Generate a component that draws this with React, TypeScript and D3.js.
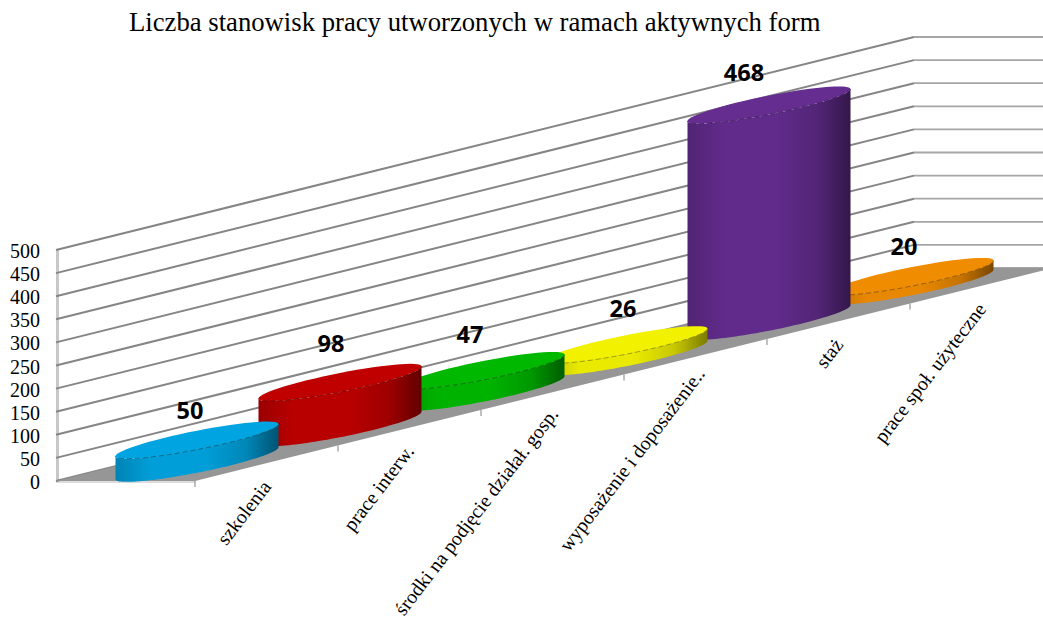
import React from "react";
import * as d3 from "d3";

const title = "Liczba stanowisk pracy utworzonych w ramach aktywnych form";
const categories = ["szkolenia", "prace interw.", "środki na podjęcie działał. gosp.", "wyposażenie i doposażenie..", "staż", "prace społ. użyteczne"];
const values = [50, 98, 47, 26, 468, 20];
const colors = ["#00a4e0", "#c00000", "#00b800", "#f2f200", "#642d8f", "#f08c00"];
const yTicks = d3.range(0, 501, 50);
const labelDx = [-7, -9, -13, -3, -25, -8];
const labelDy = [-30, -39, -37, -37, -33, -31];
const tickLabelShift = [0, 0, 2, 8, 0, 0];

const W = 1043, H = 619;
const origin = { x: 56, y: 481 };
const sx = d3.scaleLinear().domain([0, 6]).range([0, 858]);
const sy = d3.scaleLinear().domain([0, 6]).range([0, -213]);
const depth = 139;
const h = d3.scaleLinear().domain([0, 500]).range([0, 231]);

const floorPt = (s: number, d: number): [number, number] => [origin.x + sx(s) + d * depth, origin.y + sy(s)];

// elliptical base: t=0 is the right tip, t=PI the left tip; sin t > 0 is the far side
const rx = 81.5, tip = 16, thick = 9.5;
const ellPt = (cx: number, cy: number, t: number): [number, number] => [cx + rx * Math.cos(t), cy - tip * Math.cos(t) - thick * Math.sin(t)];
const line = d3.line();
const arc = (cx: number, cy: number, a: number, b: number) => d3.range(61).map((i) => ellPt(cx, cy, a + ((b - a) * i) / 60));

const shade = (c: string, k: number) => d3.color(c)!.darker(k).formatHex();

export default function App() {
  const order = d3.range(categories.length).reverse();
  return (
    <svg width={W} height={H} viewBox={`0 0 ${W} ${H}`} style={{ position: "absolute", left: 0, top: 0, background: "#fff" }}>
      <defs>
        {colors.map((c, i) => (
          <linearGradient key={i} id={`g${i}`} x1="0" x2="1" y1="0" y2="0">
            <stop offset="0" stopColor={shade(c, 0.6)} />
            <stop offset="0.22" stopColor={shade(c, 0.1)} />
            <stop offset="0.55" stopColor={shade(c, 0.1)} />
            <stop offset="0.8" stopColor={shade(c, 0.55)} />
            <stop offset="1" stopColor={shade(c, 1.9)} />
          </linearGradient>
        ))}
      </defs>
      <text x={129} y={31} fontFamily="Liberation Serif" fontSize={26.7} fill="#000">{title}</text>

      <line x1={57.5} x2={57.5} y1={250} y2={482} stroke="#c8c8c8" strokeWidth={3} />
      <line x1={56} x2={195} y1={482} y2={482} stroke="#d0d0d0" strokeWidth={1.5} />
      {yTicks.map((t) => {
        const y0 = origin.y - h(t);
        const [bx, by] = [origin.x + sx(6), y0 + sy(6)];
        return (
          <g key={t} fill="none">
            <line x1={origin.x} y1={y0} x2={bx} y2={by} stroke="#858585" strokeWidth={2} />
            <line x1={bx} y1={by} x2={W} y2={by} stroke="#a6a6a6" strokeWidth={1.8} />
          </g>
        );
      })}
      {yTicks.map((t) => (
        <text key={t} x={40} y={origin.y - h(t) + 8} textAnchor="end" fontFamily="Liberation Serif" fontSize={20} fill="#000">{t}</text>
      ))}

      <path d={line([floorPt(0, 0), floorPt(6, 0), floorPt(6, 1), floorPt(0, 1)])! + "Z"} fill="#969696" />
      {d3.range(1, 7).map((i) => {
        const [x, y] = floorPt(i - 1, 1);
        return <line key={i} x1={x} x2={x} y1={y} y2={y + 6} stroke="#808080" strokeWidth={1} />;
      })}
      {categories.map((c, i) => {
        const [x, y] = floorPt(i, 1);
        return (
          <text key={c} transform={`translate(${x + 77},${y + 6}) rotate(-52.5) translate(${tickLabelShift[i]},0)`} textAnchor="end" fontFamily="Liberation Serif" fontSize={19.8} fill="#000">{c}</text>
        );
      })}

      {order.map((i) => {
        const [cx, cy] = floorPt(i + 0.5, 0.5);
        const top = cy - h(values[i]);
        const frontB = arc(cx, cy, 0, -Math.PI);
        const frontTop = arc(cx, top, 0, -Math.PI);
        const body = [...frontB, ...frontTop.slice().reverse()];
        const ellipse = arc(cx, top, 0, 2 * Math.PI);
        return (
          <g key={i}>
            <path d={line(body)! + "Z"} fill={`url(#g${i})`} />
            <path d={line(ellipse)! + "Z"} fill={colors[i]} />
            <path d={line(frontTop)!} fill="none" stroke={shade(colors[i], 1.5)} strokeWidth={0.8} strokeDasharray="5 3" />
          </g>
        );
      })}
      {values.map((v, i) => {
        const [cx, cy] = floorPt(i + 0.5, 0.5);
        return (
          <text key={i} x={cx + labelDx[i]} y={cy - h(v) + labelDy[i]} textAnchor="middle" dominantBaseline="central" fontFamily="Open Sans" fontWeight={700} fontSize={23.5} fill="#000">{v}</text>
        );
      })}
    </svg>
  );
}
